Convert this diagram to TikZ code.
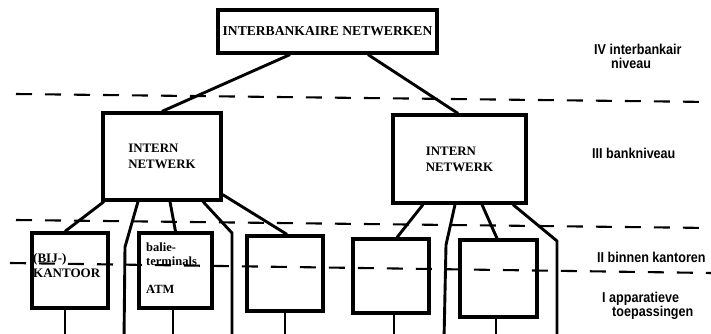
\documentclass[tikz,border=0pt]{standalone}
\usepackage{fontspec}
\setmainfont{Liberation Serif}
\newfontfamily\labfont[FakeStretch=0.88]{Liberation Sans}
\begin{document}
\begin{tikzpicture}[x=1pt,y=-1pt,
  boxnode/.style={draw, line width=3.2pt, inner sep=0pt},
  conn/.style={line width=2.9pt, line join=round},
  level/.style={line width=2.1pt, dash pattern=on 16pt off 13pt},
  bigtxt/.style={font=\bfseries\fontsize{13.6}{16}\selectfont},
  midtxt/.style={font=\bfseries\fontsize{12.9}{16}\selectfont, align=left},
  smalltxt/.style={inner sep=0pt, anchor=west, align=left, font=\bfseries\fontsize{12.5}{14}\selectfont},
  lab/.style={inner sep=0pt, anchor=west, align=left, font=\labfont\bfseries\fontsize{14.3}{14}\selectfont}
]
\useasboundingbox (0,0) rectangle (711,334);

% boxes
\node[boxnode, minimum width=219pt, minimum height=43pt, bigtxt] (top) at (327.5,31.5) {INTERBANKAIRE NETWERKEN};
\node[boxnode, minimum width=118pt, minimum height=87pt, midtxt] (lnet) at (162,156.5) {INTERN\\NETWERK};
\node[boxnode, minimum width=133pt, minimum height=88pt, midtxt] (rnet) at (459.5,159) {INTERN\\NETWERK};
\node[boxnode, minimum width=76pt, minimum height=75pt] (kant) at (70,270.5) {};
\node[boxnode, minimum width=73pt, minimum height=75pt] (balie) at (175.5,270.5) {};
\node[boxnode, minimum width=76pt, minimum height=75pt] (b3) at (285,273.5) {};
\node[boxnode, minimum width=76pt, minimum height=74pt] (b4) at (391,276) {};
\node[boxnode, minimum width=77pt, minimum height=77pt] (b5) at (498.5,278.5) {};

% texts inside lower boxes
\node[smalltxt, font=\bfseries\fontsize{13}{15}\selectfont] (kantt) at (33,265.5) {(BIJ-)\\KANTOOR};
\node[smalltxt] (balt) at (146,254) {balie-\\terminals};
\node[smalltxt] (atm) at (146,289) {ATM};

% level labels
\node[lab] (l4) at (594,56.5) {IV interbankair\\\hspace*{17pt}niveau};
\node[lab] (l3) at (592,153) {III bankniveau};
\node[lab] (l2) at (597,257) {II binnen kantoren};
\node[lab] (l1) at (602,305.5) {I apparatieve\\\hspace*{10pt}toepassingen};

% level separators
\coordinate (d4a) at (16,94);  \coordinate (d4b) at (711,102);
\coordinate (d3a) at (16,220); \coordinate (d3b) at (711,228);
\coordinate (d2a) at (10,263); \coordinate (d2b) at (711,273);
\draw[level] (d4a) -- (d4b);
\draw[level] (d3a) -- (d3b);
\draw[level] (d2a) -- (d2b);

% bend points and free ends
\coordinate (k2) at (125,247); \coordinate (e2) at (124,340);
\coordinate (k4) at (232,233); \coordinate (e4) at (232,340);
\coordinate (k7) at (446,245); \coordinate (e7) at (444,340);
\coordinate (k9) at (557,241); \coordinate (e9) at (557,340);

% connectors top level
\draw[conn] ([xshift=-37.5pt]top.south) -- (lnet.north);
\draw[conn] ([xshift=40.5pt]top.south) -- ([xshift=-1.5pt]rnet.north);

% connectors from left network
\draw[conn] ([xshift=-58pt]lnet.south) -- ([xshift=-5pt]kant.north);
\draw[conn] ([xshift=-24pt]lnet.south) -- (k2) -- (e2);
\draw[conn] ([xshift=8pt]lnet.south) -- (balie.north);
\draw[conn] ([xshift=41pt]lnet.south) -- (k4) -- (e4);
\draw[conn] ([yshift=7pt]lnet.south east) -- ([xshift=2pt]b3.north);

% connectors from right network
\draw[conn] ([xshift=-36.5pt]rnet.south) -- ([xshift=6pt]b4.north);
\draw[conn] ([xshift=-4.5pt]rnet.south) -- (k7) -- (e7);
\draw[conn] ([xshift=22.5pt]rnet.south) -- ([xshift=-1.5pt]b5.north);
\draw[conn] ([xshift=53.5pt]rnet.south) -- (k9) -- (e9);

% lines down from the lower boxes
\draw[conn] ([xshift=-5pt]kant.south) -- ++(0,40);
\draw[conn] ([xshift=-2.5pt]balie.south) -- ++(0,40);
\draw[conn] (b3.south) -- ++(0,40);
\draw[conn] ([xshift=3pt]b4.south) -- ++(0,40);
\draw[conn] ([xshift=-2.5pt]b5.south) -- ++(0,40);
\end{tikzpicture}
\end{document}
